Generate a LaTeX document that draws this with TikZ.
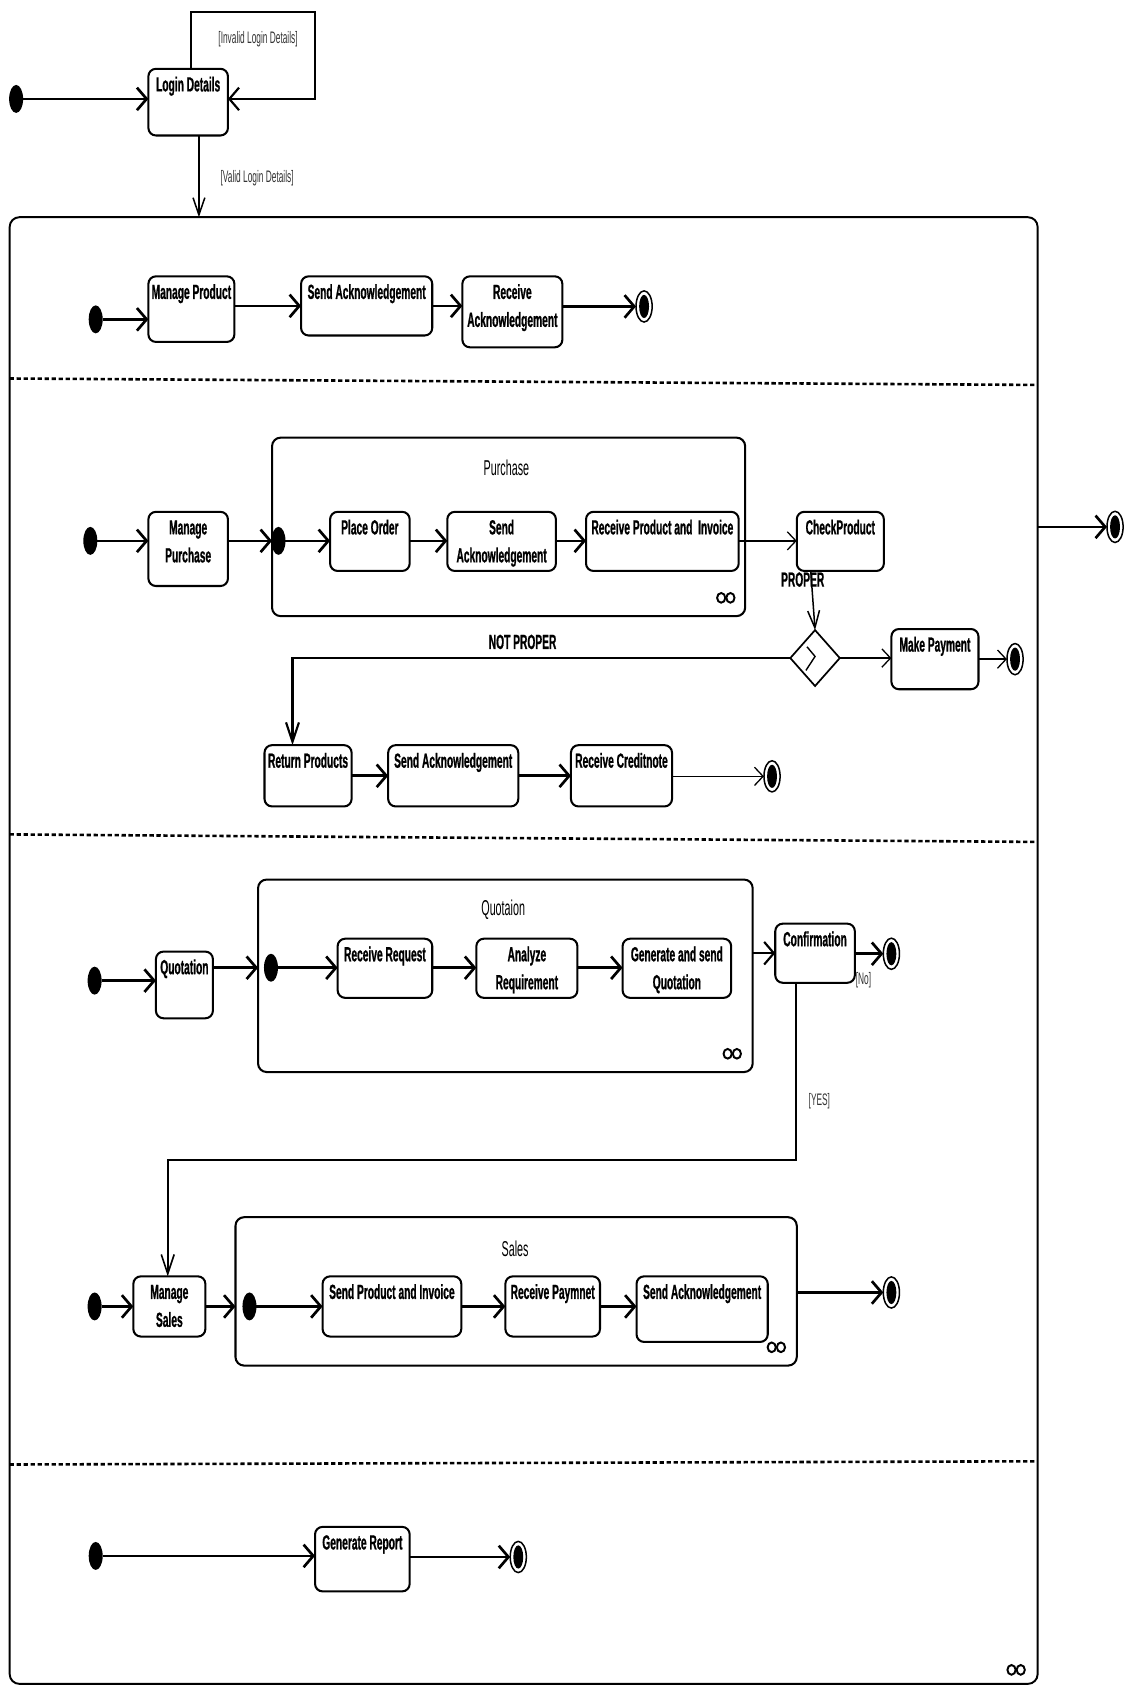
\documentclass[tikz,border=0pt]{standalone}
\usepackage{fontspec}
\setmainfont{Liberation Sans}
\newfontfamily\nfont[FakeStretch=0.5, BoldFeatures={FakeBold=0.8}]{Liberation Sans}
\usetikzlibrary{arrows.meta,shapes.geometric,calc}

\tikzset{
  lblfont/.style={font=\nfont\fontsize{19}{26}\selectfont\bfseries},
  ubox/.style={draw, line width=1.9pt, rounded corners=7pt, inner sep=0pt, outer sep=0pt, lblfont},
  cont/.style={draw, line width=1.9pt, rounded corners=8pt, inner sep=0pt, outer sep=0pt},
  initn/.style={ellipse, fill=black, minimum width=13pt, minimum height=26pt, inner sep=0pt, outer sep=0pt},
  finaln/.style={ellipse, draw, line width=1.4pt, minimum width=15pt, minimum height=29pt, inner sep=0pt, outer sep=0pt,
    path picture={\fill[black] (path picture bounding box.center) ellipse (4.6pt and 10.8pt);}},
  thk/.style={line width=2.5pt, -{Straight Barb[length=9pt,width=21pt]}},
  medh/.style={line width=2pt, -{Straight Barb[length=9pt,width=21pt]}},
  thn/.style={line width=1.2pt, -{Straight Barb[length=8pt,width=17pt]}},
  vthn/.style={line width=1.4pt, -{Straight Barb[length=16pt,width=11pt]}},
  vmed/.style={line width=2pt, -{Straight Barb[length=18pt,width=12pt]}},
  loopl/.style={line width=2pt, -{Straight Barb[length=9pt,width=21pt]}},
  lbl/.style={lblfont, inner sep=0pt},
  guard/.style={font=\nfont\fontsize{15.5}{18}\selectfont, text=black!80, inner sep=0pt},
  ttl/.style={font=\nfont\fontsize{20}{24}\selectfont, inner sep=0pt},
  dsh/.style={line width=2.4pt, dash pattern=on 4pt off 2.5pt},
  infl/.style={line width=1.8pt},
}

\newcommand\ubx[6]{%
  \pgfmathsetmacro\bw{#4-#2}\pgfmathsetmacro\bh{#5-#3}%
  \node[ubox] (#1) at ({(#2+#4)/2},{(#3+#5)/2})
    {\parbox[c][\bh pt][t]{\bw pt}{\centering\rule{0pt}{21pt}#6\par}};}
\newcommand\cbx[5]{%
  \node[cont, minimum width={#4-#2}, minimum height={#5-#3}] (#1) at ({(#2+#4)/2},{(#3+#5)/2}) {};}
\newcommand\infy[2]{%
  \draw[infl] ({#1-4.3},#2) ellipse (3.8pt and 4.5pt);
  \draw[infl] ({#1+4.3},#2) ellipse (3.8pt and 4.5pt);}

\begin{document}
\begin{tikzpicture}[x=1pt,y=-1pt]
\useasboundingbox (0,0) rectangle (1046,1568);

% ---------- top: login ----------
\node[initn] (i0) at (15,92) {};
\ubx{login}{138}{64}{212}{126}{Login Details}
\draw[thk] (i0.east) -- (i0.east -| login.west);
\coordinate (lpA) at (178,11);
\coordinate (lpB) at (293,11);
\coordinate (lpC) at (293,92);
\draw[loopl] (login.north -| lpA) -- (lpA) -- (lpB) -- (lpC) -- (lpC -| login.east);
\node[guard] (ginv) at (240,36) {[Invalid Login Details]};
\coordinate (vl) at (185,202);
\draw[vthn] (login.south -| vl) -- (vl);
\node[guard, anchor=west] (gval) at (205,166) {[Valid Login Details]};

% ---------- outer region ----------
\node[cont, line width=1.8pt, rounded corners=9pt, minimum width=956pt, minimum height=1364pt] (outer) at (487,884) {};
\draw[dsh] (9,352) -- (965,358);
\draw[dsh] (9,776) -- (965,783);
\draw[dsh] (9,1362) -- (965,1359);
\infy{945}{1553}

% ---------- section 1 ----------
\node[initn] (i1) at (89,297) {};
\ubx{mprod}{138}{257}{218}{318}{Manage Product}
\ubx{sack1}{280}{257}{402}{312}{Send Acknowledgement}
\ubx{rack1}{430}{257}{523}{323}{Receive\\Acknowledgement}
\node[finaln] (f1) at (599,285) {};
\draw[thk] (i1.east) -- (i1.east -| mprod.west);
\draw[thk] (mprod.east |- sack1) -- (sack1.west);
\draw[thk] (sack1.east) -- (sack1.east -| rack1.west);
\draw[thk] (rack1.east |- f1) -- (f1.west);

% ---------- section 2 ----------
\node[initn] (i2) at (84,503) {};
\ubx{mpur}{138}{476}{212}{545}{Manage\\Purchase}
\cbx{purch}{253}{407}{693}{573}
\node[ttl] (tpur) at (471,435) {Purchase};
\infy{675}{556}
\node[initn] (i2b) at (259,503) {};
\ubx{porder}{307}{476}{381}{531}{Place Order}
\ubx{sack2}{416}{476}{517}{531}{Send\\Acknowledgement}
\ubx{rpi}{545}{476}{687}{531}{Receive Product and~ Invoice}
\ubx{chk}{741}{476}{822}{531}{CheckProduct}
\node[diamond, draw, line width=1.6pt, minimum width=46pt, minimum height=52pt, inner sep=0pt, outer sep=0pt] (dec) at (758,612) {};
\draw[line width=1.3pt] (750.5,601.5) -- (758,610.5) -- (749.5,623.5);
\ubx{mpay}{829}{585}{910}{641}{Make Payment}
\node[finaln] (f2a) at (944,613) {};
\node[finaln] (f2o) at (1037,490) {};
\ubx{ret}{246}{693}{327}{750}{Return Products}
\ubx{sack3}{361}{693}{482}{750}{Send Acknowledgement}
\ubx{rcn}{531}{693}{625}{750}{Receive Creditnote}
\node[finaln] (f2b) at (718,722) {};

\draw[thk] (i2.east) -- (i2.east -| mpur.west);
\draw[thk] (mpur.east |- i2b) -- (i2b -| purch.west);
\draw[thk] (i2b.east) -- (i2b.east -| porder.west);
\draw[thk] (porder.east |- i2b) -- (i2b -| sack2.west);
\draw[thk] (sack2.east |- i2b) -- (i2b -| rpi.west);
\draw[thn] (rpi.east |- i2b) -- (i2b -| chk.west);
\draw[vthn] ([xshift=-27.5pt]chk.south) -- (dec.north);
\node[lbl] (lprop) at (746.5,539) {PROPER};
\draw[thn] (dec.east) -- (dec.east -| mpay.west);
\draw[thn] (mpay.east |- f2a) -- (f2a.west);
\draw[vmed] (dec.west) -| ([xshift=-14.5pt]ret.north);
\node[lbl] (lnot) at (486,597) {NOT PROPER};
\draw[thk] (ret.east) -- (ret.east -| sack3.west);
\draw[thk] (sack3.east) -- (sack3.east -| rcn.west);
\draw[thn] (rcn.east |- f2b) -- (f2b.west);
\draw[thk] (outer.east |- f2o) -- (f2o.west);

% ---------- section 3 ----------
\node[initn] (i3) at (88,912) {};
\ubx{quot}{145}{885}{198}{947}{Quotation}
\cbx{qcont}{240}{818}{700}{997}
\node[ttl] (tquo) at (468,846) {Quotaion};
\infy{681}{980}
\node[initn] (i3b) at (252,900) {};
\ubx{rreq}{314}{873}{402}{928}{Receive Request}
\ubx{areq}{443}{873}{537}{928}{Analyze\\Requirement}
\ubx{gsq}{579}{873}{680}{928}{Generate and send\\Quotation}
\ubx{conf}{721}{859}{795}{914}{Confirmation}
\node[finaln] (f3) at (829,887) {};
\draw[thk] (i3.east) -- (i3.east -| quot.west);
\draw[thk] (quot.east |- i3b) -- (i3b -| qcont.west);
\draw[thk] (i3b.east) -- (i3b.east -| rreq.west);
\draw[thk] (rreq.east |- i3b) -- (i3b -| areq.west);
\draw[thk] (areq.east |- i3b) -- (i3b -| gsq.west);
\draw[medh] (qcont.east |- conf) -- (conf.west);
\draw[thk] (conf.east |- f3) -- (f3.west);
\node[guard] (gno) at (803,912) {[No]};

\node[initn] (i4) at (88,1215) {};
\ubx{msales}{124}{1187}{191}{1243}{Manage\\Sales}
\cbx{scont}{219}{1132}{741}{1270}
\node[ttl] (tsal) at (479,1161) {Sales};
\infy{722}{1253}
\node[initn] (i4b) at (232,1215) {};
\ubx{spi}{300}{1187}{429}{1243}{Send Product and Invoice}
\ubx{rpay}{470}{1187}{558}{1243}{Receive Paymnet}
\ubx{sack4}{592}{1187}{714}{1248}{Send Acknowledgement}
\node[finaln] (f4) at (829,1202) {};

\coordinate (yc) at (740,1079);
\draw[vmed, line width=1.5pt] ([xshift=-18pt]conf.south) -- (yc) -| ([xshift=-1.5pt]msales.north);
\node[guard] (gyes) at (762,1024) {[YES]};

\draw[thk] (i4.east) -- (i4.east -| msales.west);
\draw[thk] (msales.east |- i4b) -- (i4b -| scont.west);
\draw[thk] (i4b.east) -- (i4b.east -| spi.west);
\draw[thk] (spi.east |- i4b) -- (i4b -| rpay.west);
\draw[thk] (rpay.east |- i4b) -- (i4b -| sack4.west);
\draw[thk] (scont.east |- f4) -- (f4.west);

% ---------- section 4 ----------
\node[initn] (i5) at (89,1447) {};
\ubx{grep}{293}{1420}{381}{1480}{Generate Report}
\node[finaln] (f5) at (482,1448) {};
\draw[thk] (i5.east) -- (i5.east -| grep.west);
\draw[thk] (grep.east |- f5) -- (f5.west);
\end{tikzpicture}
\end{document}
